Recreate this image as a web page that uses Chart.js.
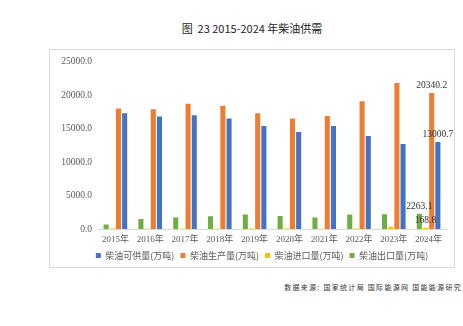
<!DOCTYPE html>
<html>
<head>
<meta charset="utf-8">
<script src="https://cdn.jsdelivr.net/npm/chart.js@4"></script>
<style>
    body { margin: 0; width: 463px; height: 326px; background: #fff; overflow: hidden; position: relative; font-family: "Noto Sans CJK SC", sans-serif; }
    #title { position: absolute; left: 49px; width: 406px; top: 20px; text-align: center; font-size: 11px; color: #222; }
    #box { position: absolute; left: 49px; top: 49px; width: 404px; height: 217px; border: 1px solid #d9d9d9; }
    #source { position: absolute; right: 1px; top: 282px; font-size: 7px; letter-spacing: 1.3px; color: #333; white-space: nowrap; }
</style>
</head>
<body>
<div id="title">图&nbsp; 23 2015-2024 年柴油供需</div>
<div id="box"><canvas id="myChart" width="404" height="217"></canvas></div>
<div id="source">数据来源: 国家统计局 国际能源网 国能能源研究</div>
<script>
// 柴油供需 (万吨)
const years = ["2015年", "2016年", "2017年", "2018年", "2019年", "2020年", "2021年", "2022年", "2023年", "2024年"];
const supply = [17300, 16800, 17000, 16500, 15400, 14500, 15400, 13900, 12700, 13000.7];
const production = [18000, 17900, 18700, 18400, 17300, 16500, 16900, 19100, 21800, 20340.2];
const importVol = [60, 40, 30, 20, 60, 80, 40, 60, 330, 168.8];
const exportVol = [670, 1500, 1700, 1900, 2150, 1950, 1700, 2150, 2200, 2263.1];
const yTicks = [0, 5000, 10000, 15000, 20000, 25000];

const numFont = '"Liberation Serif", "Noto Sans CJK SC", serif';

// value labels on the last year only
const lastLabels = {
    id: "lastLabels",
    afterDatasetsDraw(chart) {
        const ctx = chart.ctx;
        ctx.save();
        ctx.font = "9.5px " + numFont;
        ctx.fillStyle = "#333";
        ctx.textAlign = "center";
        ctx.textBaseline = "bottom";
        chart.data.datasets.forEach((ds, i) => {
            const meta = chart.getDatasetMeta(i);
            const last = ds.data.length - 1;
            const bar = meta.data[last];
            ctx.fillText(ds.data[last].toFixed(1), bar.x, bar.y - 3);
        });
        ctx.restore();
    }
};

// keep the legend row compact and nudge it a little to the right
const legendFit = {
    id: "legendFit",
    afterInit(chart) {
        const legend = chart.legend;
        const fit = legend.fit;
        legend.fit = function () {
            fit.call(this);
            this.height = 22;
        };
    },
    afterLayout(chart) {
        chart.legend.left += 14;
        chart.legend.right += 14;
    }
};

const ctx = document.getElementById("myChart").getContext("2d");
new Chart(ctx, {
    type: "bar",
    data: {
        labels: years,
        datasets: [
            { label: "柴油出口量(万吨)", data: exportVol, backgroundColor: "#70AD47" },
            { label: "柴油进口量(万吨)", data: importVol, backgroundColor: "#FFC000" },
            { label: "柴油生产量(万吨)", data: production, backgroundColor: "#ED7D31" },
            { label: "柴油可供量(万吨)", data: supply, backgroundColor: "#4472C4" },
        ],
    },
    options: {
        responsive: false,
        animation: false,
        datasets: { bar: { categoryPercentage: 0.71, barPercentage: 0.82 } },
        layout: { padding: { top: 11, right: 8, left: 0, bottom: 0 } },
        plugins: {
            legend: {
                position: "bottom",
                reverse: true,
                labels: {
                    boxWidth: 5,
                    boxHeight: 5,
                    padding: 6,
                    color: "#595959",
                    font: { family: '"Noto Sans CJK SC", sans-serif', size: 9 },
                },
            },
            tooltip: { enabled: false },
        },
        scales: {
            x: {
                afterFit: (scale) => { scale.height = 16; },
                grid: { display: false, drawTicks: false },
                border: { display: true, color: "#d9d9d9" },
                ticks: { padding: 5, color: "#595959", font: { family: numFont, size: 9 }, maxRotation: 0 },
            },
            y: {
                min: 0,
                max: 25000,
                afterBuildTicks: (scale) => { scale.ticks = yTicks.map(v => ({ value: v })); },
                afterFit: (scale) => { scale.width = 48; },
                grid: { display: false, drawTicks: false },
                border: { display: false },
                ticks: {
                    padding: 6,
                    color: "#595959",
                    font: { family: numFont, size: 9.5 },
                    callback: (v) => Number(v).toFixed(1),
                },
            },
        },
    },
    plugins: [lastLabels, legendFit],
});
</script>
</body>
</html>
